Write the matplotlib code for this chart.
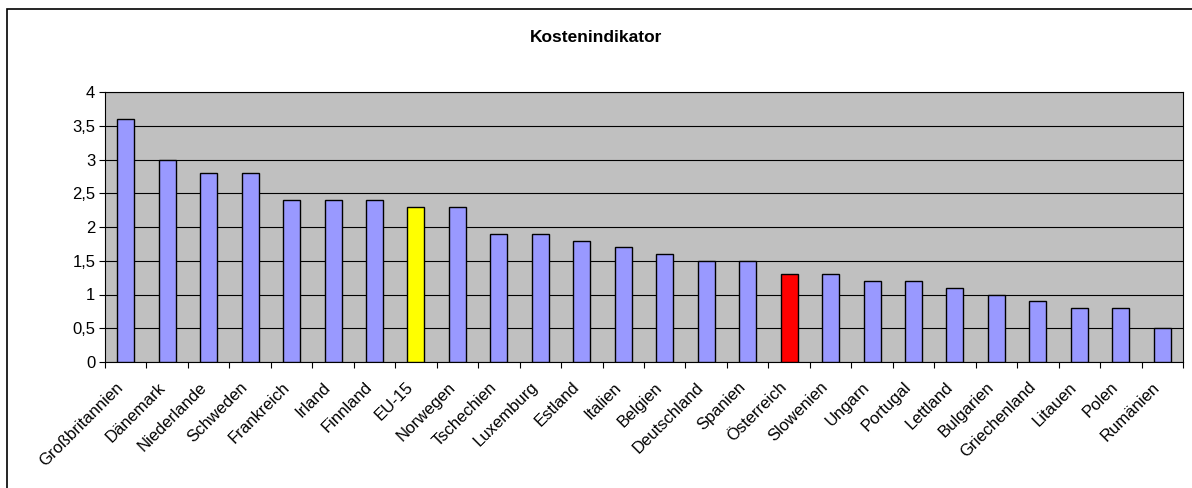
import matplotlib
matplotlib.use("Agg")
import matplotlib.pyplot as plt
from matplotlib.patches import Rectangle
from matplotlib.ticker import FuncFormatter, FixedLocator
from matplotlib.transforms import ScaledTranslation

plt.rcParams["font.family"] = ["Liberation Sans", "DejaVu Sans"]

laender = ["Großbritannien", "Dänemark", "Niederlande", "Schweden", "Frankreich",
           "Irland", "Finnland", "EU-15", "Norwegen", "Tschechien", "Luxemburg",
           "Estland", "Italien", "Belgien", "Deutschland", "Spanien", "Österreich",
           "Slowenien", "Ungarn", "Portugal", "Lettland", "Bulgarien",
           "Griechenland", "Litauen", "Polen", "Rumänien"]
werte = [3.6, 3.0, 2.8, 2.8, 2.4, 2.4, 2.4, 2.3, 2.3, 1.9, 1.9, 1.8, 1.7, 1.6,
         1.5, 1.5, 1.3, 1.3, 1.2, 1.2, 1.1, 1.0, 0.9, 0.8, 0.8, 0.5]
hervorgehoben = {"EU-15": "#FFFF00", "Österreich": "#FF0000"}

fig = plt.figure(figsize=(11.92, 4.88), dpi=100)
# Rahmen um das Diagramm (rechts/unten abgeschnitten wie im Original)
fig.patches.append(Rectangle((7 / 1192, -0.05), 1.2, 1 - 9 / 488 + 0.05,
                             transform=fig.transFigure, fill=False,
                             edgecolor="black", linewidth=1.2))

ax = fig.add_axes([105 / 1192, 126 / 488, 1078 / 1192, 270 / 488])
ax.set_facecolor("#C0C0C0")

farben = [hervorgehoben.get(l, "#9999FF") for l in laender]
x = range(len(laender))
ax.bar(x, werte, width=0.41, color=farben, edgecolor="black", linewidth=1, zorder=3)

ax.set_xlim(-0.5, len(laender) - 0.5)
ax.set_ylim(0, 4)
ax.set_yticks([0, 0.5, 1, 1.5, 2, 2.5, 3, 3.5, 4])
ax.yaxis.set_major_formatter(FuncFormatter(lambda v, p: f"{v:g}".replace(".", ",")))
ax.grid(axis="y", color="black", linewidth=0.8, zorder=1)

ax.set_xticks(list(x))
ax.set_xticklabels(laender, rotation=45, ha="right", rotation_mode="anchor")
ax.xaxis.set_minor_locator(FixedLocator([i - 0.5 for i in range(len(laender) + 1)]))
ax.tick_params(axis="x", which="major", length=0, pad=9, labelsize=12)
ax.tick_params(axis="x", which="minor", length=4, width=0.8)
ax.tick_params(axis="y", length=4, width=0.8, labelsize=12, pad=3)

verschiebung = ScaledTranslation(-10 / 100, -5 / 100, fig.dpi_scale_trans)
for lbl in ax.get_xticklabels():
    lbl.set_transform(lbl.get_transform() + verschiebung)

for s in ax.spines.values():
    s.set_color("black")
    s.set_linewidth(0.8)

fig.text(0.5, 1 - 37 / 488, "Kostenindikator", ha="center", va="center",
         fontsize=12.5, fontweight="bold")

fig.savefig("out.png", dpi=100)
